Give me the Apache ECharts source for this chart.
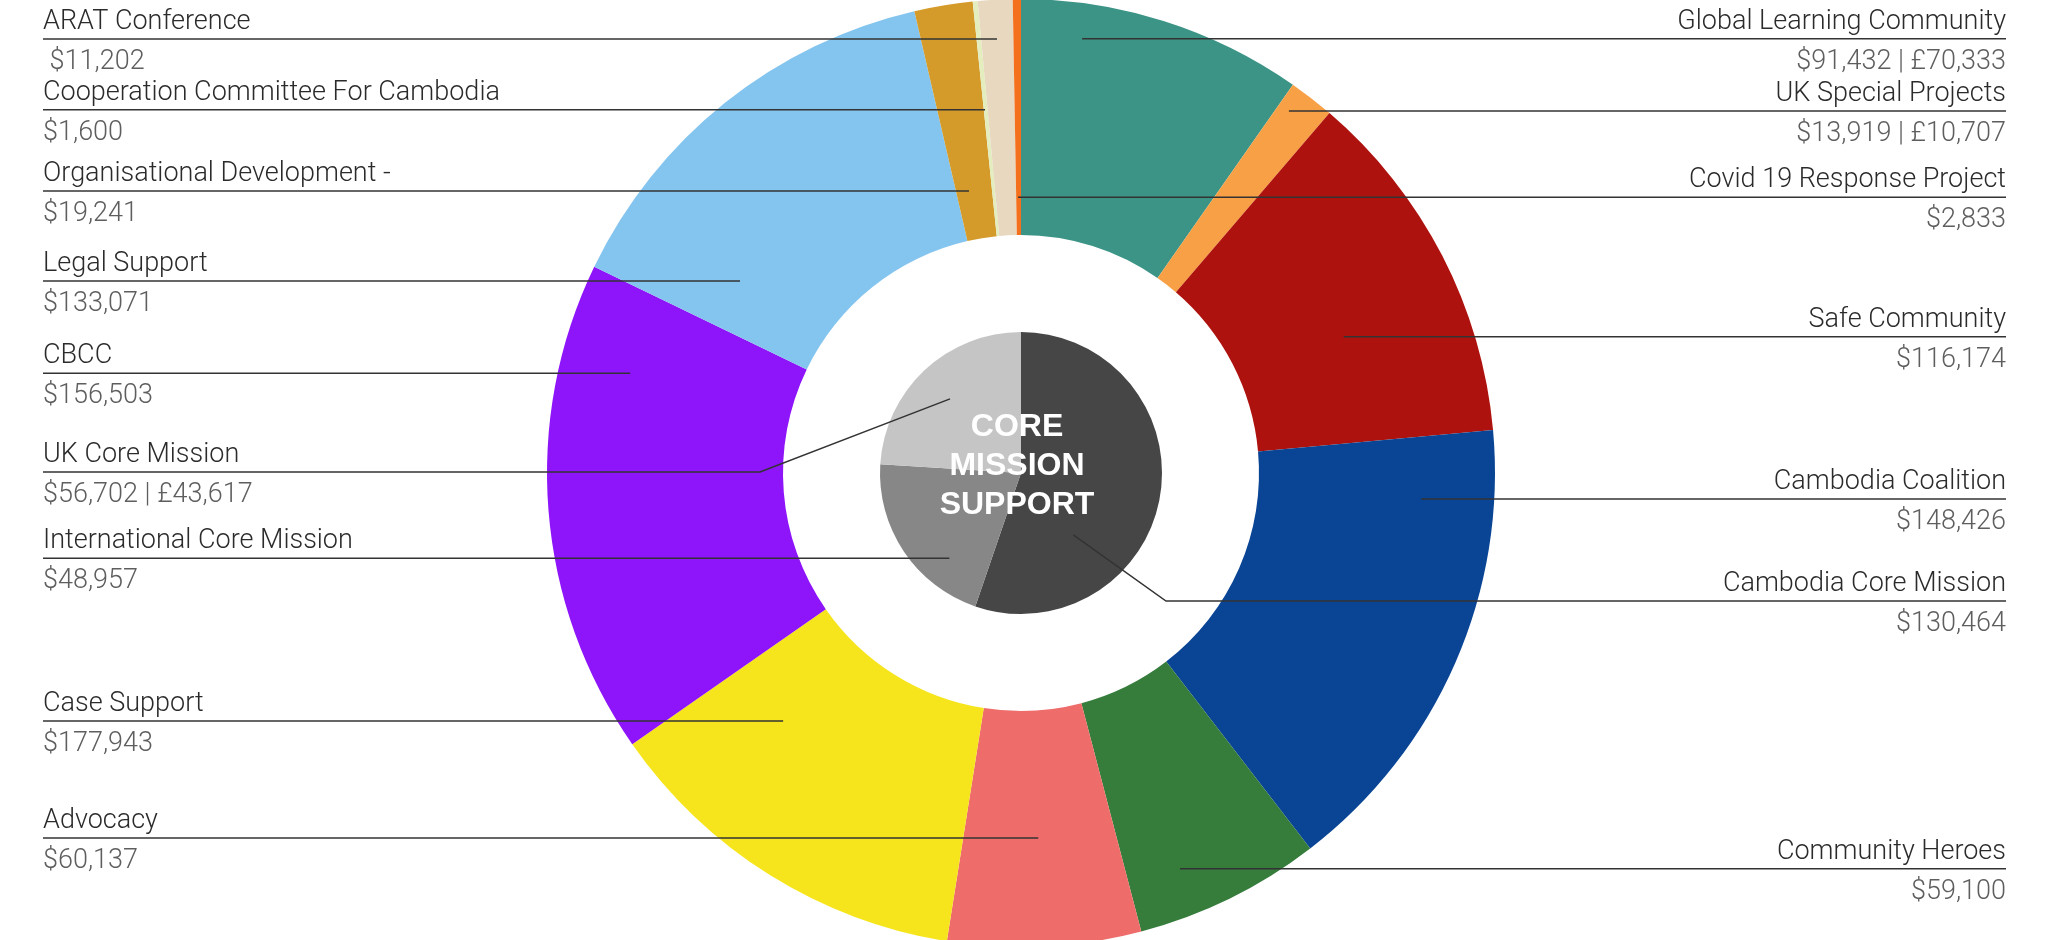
<!DOCTYPE html>
<html><head><meta charset="utf-8">
<script src="https://cdn.jsdelivr.net/npm/echarts@6/dist/echarts.min.js"></script>
<style>html,body{margin:0;padding:0;background:#fff}#chart{width:2053px;height:940px}</style>
</head><body><div id="chart"></div>
<script>
// ---------- DATA ----------
// Outer ring (clockwise from 12 o'clock)
const ringNames = ['Global Learning Community','UK Special Projects','Safe Community','Cambodia Coalition','Community Heroes','Advocacy','Case Support','CBCC','Legal Support','Organisational Development -','Cooperation Committee For Cambodia','ARAT Conference','Covid 19 Response Project'];
const ringAmountLabels = ['$91,432 | £70,333','$13,919 | £10,707','$116,174','$148,426','$59,100','$60,137','$177,943','$156,503','$133,071','$19,241','$1,600',' $11,202','$2,833'];
// slice sizes as drawn in the reference (degrees of the ring)
const ringShares = [35.0,5.6,44.2,57.6,22.9,23.7,46.1,60.7,51.2,7.15,0.6,4.25,1.0];
// Inner pie (clockwise from 12 o'clock)
const coreNames = ['Cambodia Core Mission','International Core Mission','UK Core Mission'];
const coreValues = [130464,48957,56702];
const coreAmountLabels = ['$130,464','$48,957','$56,702 | £43,617'];
const centerTitle = 'CORE\nMISSION\nSUPPORT';

// ---------- STYLE / LAYOUT ----------
const ringColors = ['#3B9486','#F8A046','#AE120E','#0A4595','#367D3C','#EE6C6A','#F6E51C','#8E14F9','#84C5F0','#D49B2B','#E3EDBE','#E8D8C0','#F4701D'];
const coreColors = ['#464646','#878787','#C5C5C5'];
const CX = 1021, CY = 473, R_HOLE = 238, R_RING = 474, R_CORE = 141;
const LEFT_X = 43, RIGHT_X = 2006, TEXT_DY = 3;
// anchor of each leader line: t = position across the slice, r = fraction of radius
const ringAnchors = [
  {side:'right', t:0.229, r:0.925},
  {side:'right', t:0.27,  r:0.95},
  {side:'right', t:0.60,  r:0.739},
  {side:'right', t:0.155, r:0.846},
  {side:'right', t:0.686, r:0.90},
  {side:'left',  t:0.506, r:0.771},
  {side:'left',  t:0.755, r:0.725},
  {side:'left',  t:0.811, r:0.851},
  {side:'left',  t:0.167, r:0.718},
  {side:'left',  t:0.357, r:0.605},
  {side:'left',  t:0.32,  r:0.77},
  {side:'left',  t:0.49,  r:0.917},
  {side:'right', t:0.4,   r:0.582}
];
const coreAnchors = [
  {side:'right', t:0.703, r:0.575, elbow:[1166,601]},
  {side:'left',  t:0.283, r:0.79},
  {side:'left',  t:0.494, r:0.728, elbow:[760,472]}
];

const FONT = 'Roboto, "Helvetica Neue", Arial, sans-serif';
const rich = {
  n: {fontFamily: FONT, fontWeight: 300, fontSize: 27, color: '#2b2b2b', lineHeight: 40},
  v: {fontFamily: FONT, fontWeight: 300, fontSize: 27, color: '#5e5e5e', lineHeight: 40}
};

function makeLayout(values, anchors, R) {
  const total = values.reduce((a, b) => a + b, 0);
  const starts = []; let acc = 0;
  values.forEach(v => { starts.push(acc); acc += v; });
  return function (params) {
    const i = params.dataIndex, an = anchors[i];
    const ang = (starts[i] + an.t * values[i]) / total * 2 * Math.PI;
    const ax = CX + an.r * R * Math.sin(ang), ay = CY - an.r * R * Math.cos(ang);
    const mid = an.elbow ? an.elbow : [ax, ay];
    const ly = mid[1];
    const ex = an.side === 'left' ? LEFT_X : RIGHT_X;
    return {
      x: ex, y: ly + TEXT_DY, align: an.side, verticalAlign: 'middle',
      labelLinePoints: [[ax, ay], [mid[0], mid[1]], [ex, ly]]
    };
  };
}

const lineStyle = {color: '#333333', width: 1.5};

function colouredPie(values, names, colors, radius) {
  return {
    type: 'pie', center: [CX, CY], radius: radius, z: 2,
    startAngle: 90, clockwise: true, silent: true,
    data: names.map((n, i) => ({name: n, value: values[i], itemStyle: {color: colors[i]}})),
    label: {show: false}, labelLine: {show: false},
    emphasis: {disabled: true}
  };
}
function labelPie(values, names, amounts, anchors, radius, R) {
  return {
    type: 'pie', center: [CX, CY], radius: radius, z: 6,
    startAngle: 90, clockwise: true, avoidLabelOverlap: false, silent: true,
    data: names.map((n, i) => ({name: n, value: values[i], itemStyle: {color: 'rgba(0,0,0,0)'}})),
    label: {show: true, position: 'outside',
      formatter: p => '{n|' + p.name + '}\n{v|' + amounts[p.dataIndex] + '}', rich: rich},
    labelLine: {show: true, length: 10, length2: 10, smooth: false, lineStyle: lineStyle},
    labelLayout: makeLayout(values, anchors, R),
    emphasis: {disabled: true}
  };
}

const chart = echarts.init(document.getElementById('chart'), null, {renderer: 'canvas'});
chart.setOption({
  backgroundColor: '#ffffff',
  animation: false,
  series: [
    colouredPie(ringShares, ringNames, ringColors, [R_HOLE, R_RING]),
    colouredPie(coreValues, coreNames, coreColors, [0, R_CORE]),
    labelPie(ringShares, ringNames, ringAmountLabels, ringAnchors, [R_HOLE, R_RING], R_RING),
    labelPie(coreValues, coreNames, coreAmountLabels, coreAnchors, [0, R_CORE], R_CORE)
  ],
  graphic: [{
    type: 'text', x: CX - 4, y: CY - 7, z: 100, silent: true,
    style: {text: centerTitle, fill: '#ffffff', font: 'bold 32px "Liberation Sans", Arial, sans-serif',
      align: 'center', verticalAlign: 'middle', textAlign: 'center', textVerticalAlign: 'middle', lineHeight: 39}
  }]
});
</script></body></html>
